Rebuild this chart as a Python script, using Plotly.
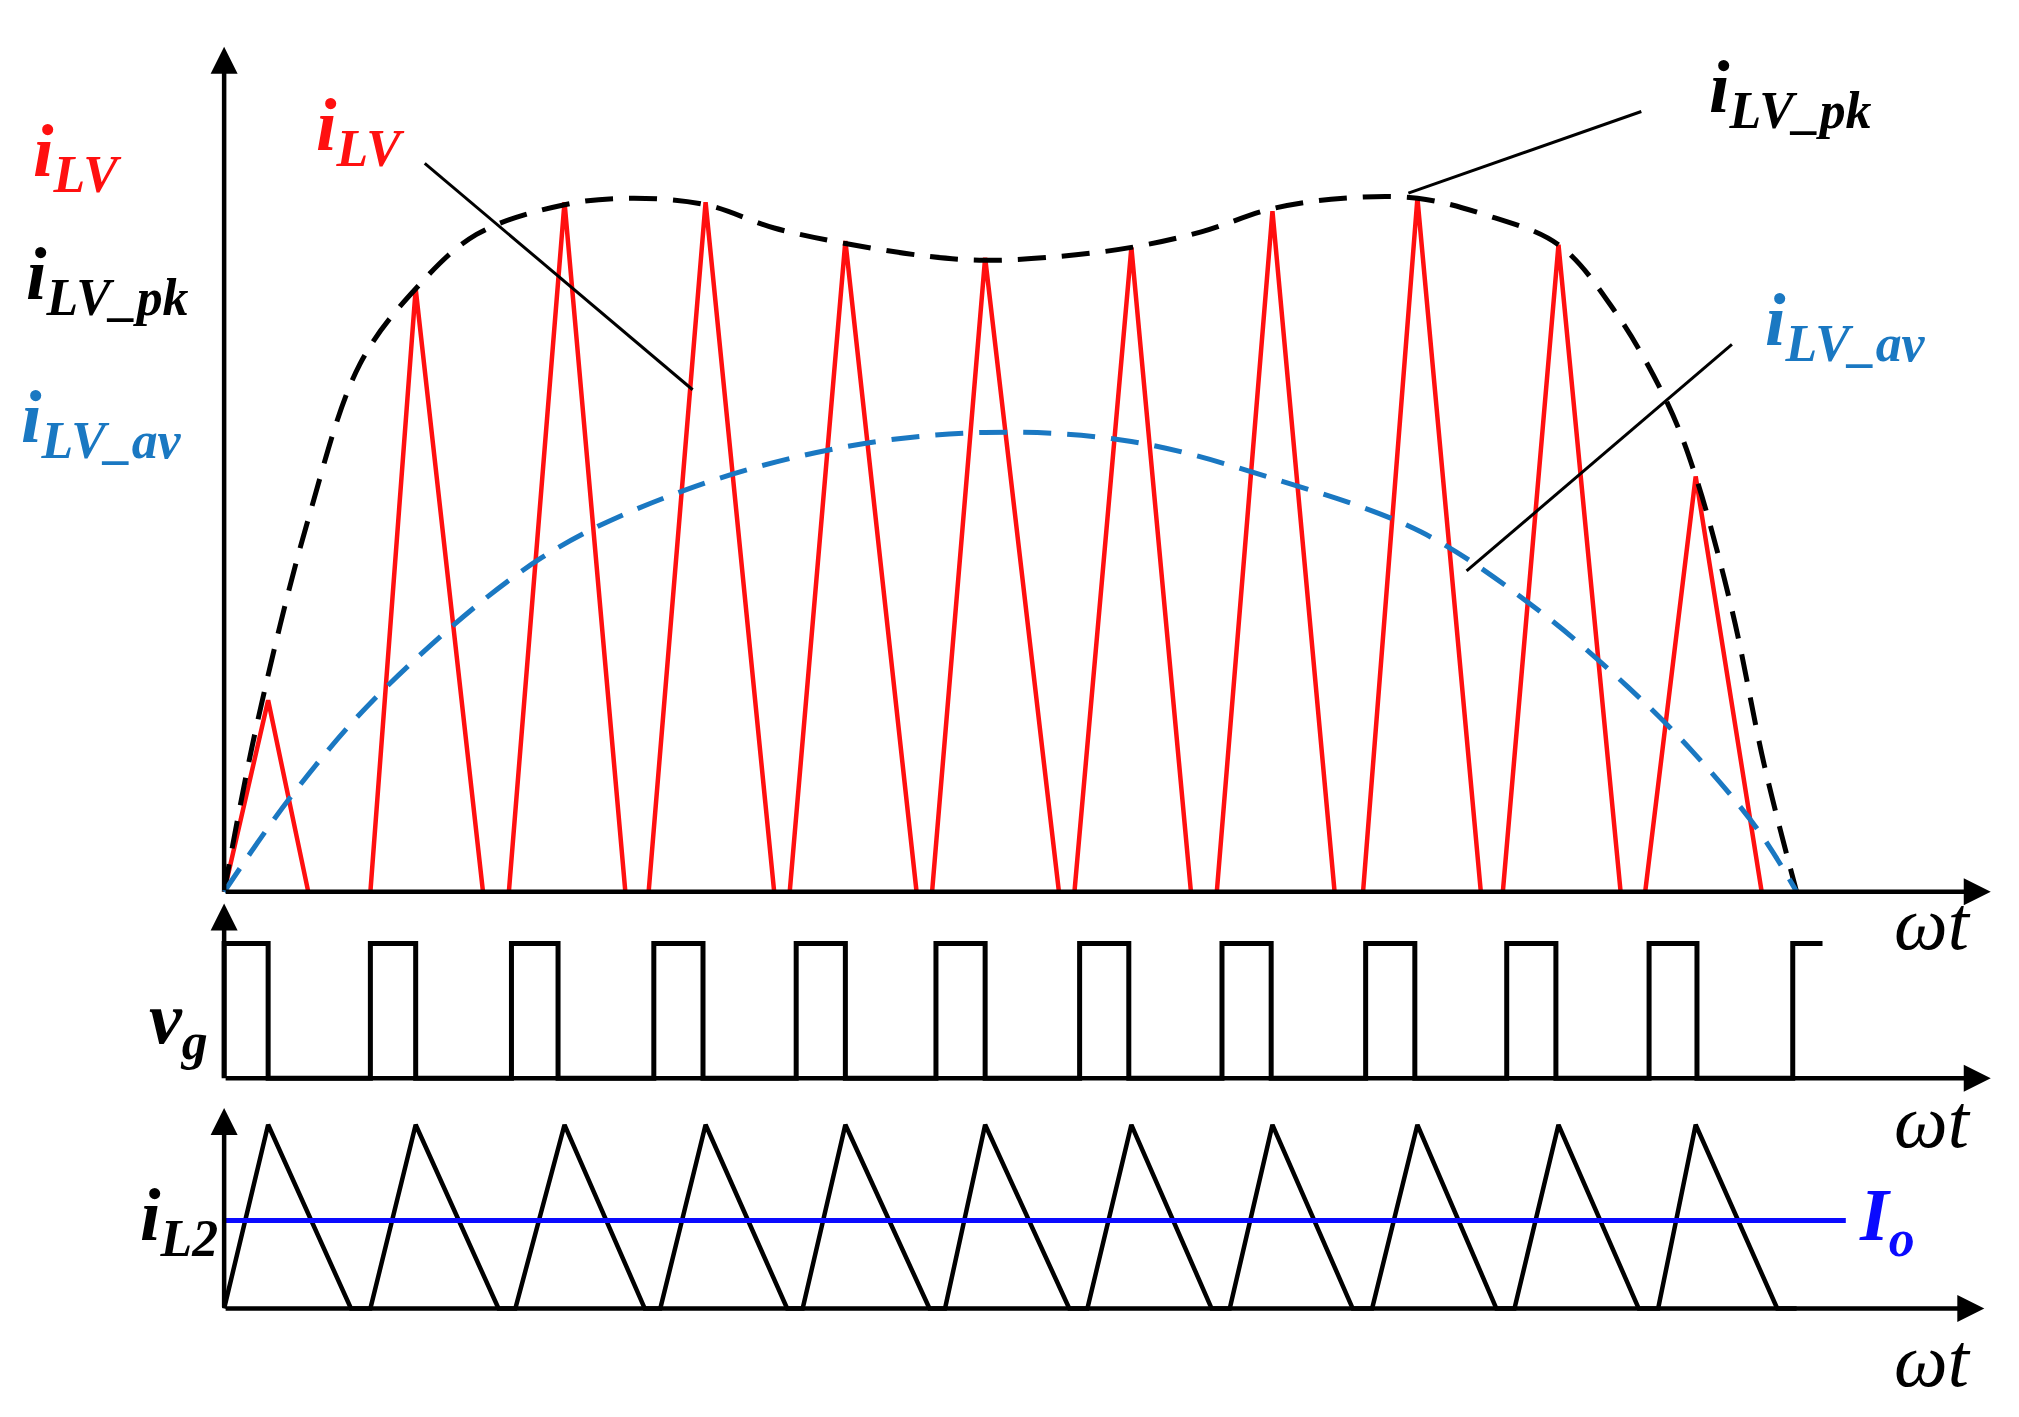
import plotly.graph_objects as go

# picture units (x right, y down), based on a 1560x1095 frame
ilv_start = [175, 288, 395, 503, 612, 722, 832, 942, 1055, 1163, 1273]
ilv_peak_x = [209, 323, 438, 547, 655, 763, 876, 985, 1097, 1206, 1312]
ilv_peak_y = [540, 222, 155, 155, 185, 198, 190, 162, 152, 188, 367]
ilv_end = [240, 375, 485, 600, 710, 820, 922, 1033, 1146, 1254, 1363]

pk_x = [175, 200, 240, 280, 323, 370, 438, 490, 547, 600, 655, 720, 763, 820, 876, 930, 985, 1040, 1097, 1150, 1206, 1250, 1290, 1312, 1340, 1365, 1390]
pk_y = [688, 560, 400, 280, 222, 180, 157, 152, 157, 175, 187, 197, 200, 197, 190, 178, 160, 152, 152, 165, 188, 240, 310, 367, 470, 590, 688]

av_x = [175, 230, 300, 420, 530, 650, 763, 876, 990, 1100, 1190, 1260, 1310, 1360, 1390]
av_y = [688, 610, 530, 430, 378, 345, 333, 340, 370, 410, 470, 530, 580, 640, 688]

vg_on = [288, 397, 507, 617, 725, 836, 946, 1057, 1166, 1276]
vg_off = [323, 433, 545, 655, 763, 874, 984, 1095, 1204, 1313]

il2_peak = [209, 323, 438, 547, 655, 763, 876, 985, 1097, 1206, 1312]
il2_zero = [273, 387, 500, 610, 720, 828, 938, 1047, 1158, 1268, 1375]
il2_start = [175, 288, 400, 512, 622, 732, 842, 952, 1062, 1172, 1283]

Y0_TOP, Y0_VG, VG_HI, Y0_IL, IL_PK, IO_Y = 688, 832, 728, 1010, 868, 942

fig = go.Figure()

rx, ry = [], []
for s, px, py, e in zip(ilv_start, ilv_peak_x, ilv_peak_y, ilv_end):
    rx += [s, px, e, None]; ry += [Y0_TOP, py, Y0_TOP, None]
fig.add_trace(go.Scatter(x=rx, y=ry, mode="lines", line=dict(color="#ff1010", width=4.5)))
fig.add_trace(go.Scatter(x=pk_x, y=pk_y, mode="lines", line=dict(color="black", width=5, dash="28px,16px", shape="spline")))
fig.add_trace(go.Scatter(x=av_x, y=av_y, mode="lines", line=dict(color="#1a78c2", width=5, dash="28px,16px", shape="spline")))

vx = [175, 175, 209, 209]; vy = [Y0_VG, VG_HI, VG_HI, Y0_VG]
for a, b in zip(vg_on, vg_off):
    vx += [a, a, b, b]; vy += [Y0_VG, VG_HI, VG_HI, Y0_VG]
vx += [1387, 1387, 1410]; vy += [Y0_VG, VG_HI, VG_HI]
fig.add_trace(go.Scatter(x=vx, y=vy, mode="lines", line=dict(color="black", width=5)))

lx, ly = [], []
for s, p, z in zip(il2_start, il2_peak, il2_zero):
    lx += [s, p, z]; ly += [Y0_IL, IL_PK, Y0_IL]
lx.append(1390); ly.append(Y0_IL)
fig.add_trace(go.Scatter(x=lx, y=ly, mode="lines", line=dict(color="black", width=4.5)))
fig.add_trace(go.Scatter(x=[175, 1428], y=[IO_Y, IO_Y], mode="lines", line=dict(color="#0a0aff", width=5)))

for (x0, y0, x1, y1) in [(175, Y0_TOP, 1540, Y0_TOP), (175, Y0_TOP, 175, 35),
                         (175, Y0_VG, 1540, Y0_VG), (175, Y0_VG, 175, 697),
                         (175, Y0_IL, 1535, Y0_IL), (175, Y0_IL, 175, 855)]:
    fig.add_annotation(x=x1, y=y1, ax=x0, ay=y0, xref="x", yref="y", axref="x", ayref="y",
                       showarrow=True, arrowhead=2, arrowsize=1.2, arrowwidth=4.5, arrowcolor="black", text="")
for (x0, y0, x1, y1) in [(330, 125, 537, 300), (1270, 85, 1090, 148), (1340, 265, 1135, 440)]:
    fig.add_shape(type="line", x0=x0, y0=y0, x1=x1, y1=y1, line=dict(color="black", width=3))

F = "Liberation Serif"
def lab(x, y, t, c, s=74):
    fig.add_annotation(x=x, y=y, text=t, showarrow=False, font=dict(family=F, size=s, color=c), xanchor="center", yanchor="middle")

lab(62, 120, "<b><i>i<sub>LV</sub></i></b>", "#ff1010")
lab(85, 215, "<b><i>i<sub>LV_pk</sub></i></b>", "black")
lab(80, 325, "<b><i>i<sub>LV_av</sub></i></b>", "#1a78c2")
lab(280, 100, "<b><i>i<sub>LV</sub></i></b>", "#ff1010")
lab(1385, 70, "<b><i>i<sub>LV_pk</sub></i></b>", "black")
lab(1428, 250, "<b><i>i<sub>LV_av</sub></i></b>", "#1a78c2")
lab(140, 790, "<b><i>v<sub>g</sub></i></b>", "black")
lab(140, 942, "<b><i>i<sub>L2</sub></i></b>", "black")
lab(1460, 942, "<b><i>I<sub>o</sub></i></b>", "#0a0aff")
for yy in [712, 865, 1050]:
    lab(1495, yy, "<i>ωt</i>", "black", 76)

fig.update_layout(width=2019, height=1417, margin=dict(l=0, r=0, t=0, b=0),
                  plot_bgcolor="white", paper_bgcolor="white", showlegend=False)
fig.update_xaxes(range=[8, 1568], visible=False)
fig.update_yaxes(range=[1100, 5], visible=False)
fig.write_html("out.html")
